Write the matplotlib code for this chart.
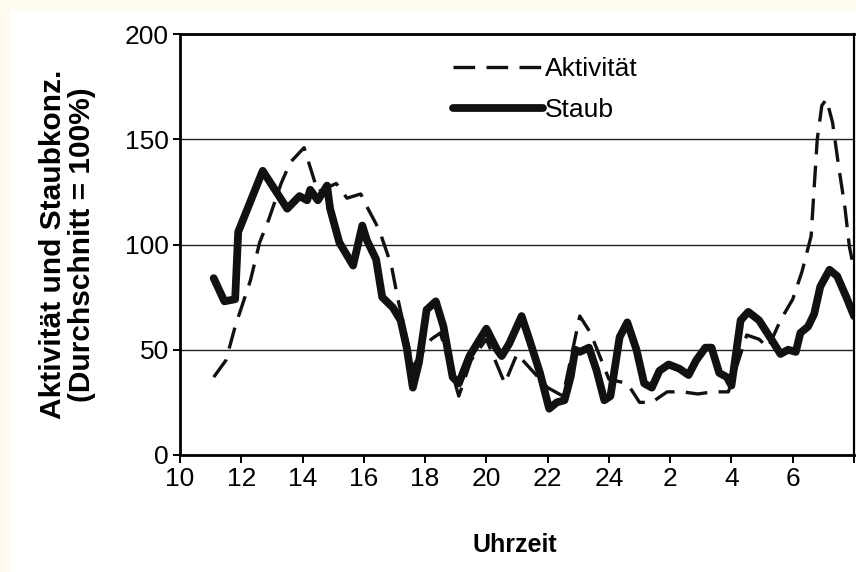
import matplotlib
matplotlib.use('Agg')
import matplotlib.pyplot as plt
from matplotlib.patches import Rectangle

# Values (hours since 10:00 of day 1, continuing past 24)
akt_time = [11.1, 11.5, 11.8, 12.3, 12.6, 12.9, 13.3, 13.6, 14.05, 14.5, 15.1, 15.45,
            15.9, 16.1, 16.5, 16.9, 17.1, 17.6, 18.2, 18.5, 19.1, 19.5, 20.0, 20.6,
            21.0, 21.5, 22.0, 22.5, 23.05, 23.4, 24.0, 24.6, 25.0, 25.4, 25.9, 26.4,
            26.9, 27.4, 27.9, 28.5, 28.9, 29.2, 29.6, 30.0, 30.3, 30.6, 30.8, 30.95,
            31.1, 31.3, 31.5, 31.7, 31.85, 32.0]
akt_vals = [37, 45, 61, 83, 101, 112, 129, 139, 146, 125, 129, 122,
            124, 118, 107, 90, 75, 42, 55, 58, 28, 45, 55, 34,
            48, 40, 32, 28, 66, 58, 36, 34, 25, 25, 30, 30,
            29, 30, 30, 57, 55, 51, 64, 74, 87, 104, 150, 166,
            169, 158, 137, 118, 99, 88]

staub_time = [11.1, 11.45, 11.8, 11.9, 12.7, 13.5, 13.9, 14.15, 14.25, 14.5, 14.8, 14.9,
              15.2, 15.65, 15.95, 16.1, 16.4, 16.6, 16.95, 17.2, 17.4, 17.6, 17.8, 18.05,
              18.35, 18.6, 18.9, 19.1, 19.45, 20.0, 20.35, 20.5, 20.75, 21.15, 21.4, 21.75,
              22.05, 22.3, 22.55, 22.75, 22.9, 23.05, 23.35, 23.6, 23.85, 24.05, 24.35, 24.6,
              24.9, 25.15, 25.4, 25.65, 25.95, 26.3, 26.6, 26.85, 27.15, 27.35, 27.6, 27.85,
              28.0, 28.3, 28.55, 28.9, 29.3, 29.6, 29.85, 30.1, 30.25, 30.5, 30.7, 30.9,
              31.2, 31.45, 31.75, 32.0]
staub_vals = [84, 73, 74, 106, 135, 117, 123, 121, 126, 121, 128, 117,
              101, 90, 109, 102, 93, 75, 70, 64, 51, 32, 44, 69,
              73, 61, 37, 34, 47, 60, 50, 47, 53, 66, 55, 39,
              22, 25, 26, 37, 50, 49, 51, 40, 26, 28, 56, 63,
              50, 34, 32, 40, 43, 41, 38, 45, 51, 51, 39, 37,
              33, 64, 68, 64, 55, 48, 50, 49, 58, 61, 67, 80,
              88, 85, 75, 66]

x_ticks = list(range(10, 33, 2))
x_labels = ['10', '12', '14', '16', '18', '20', '22', '24', '2', '4', '6', '']
y_ticks = [0, 50, 100, 150, 200]

plt.rcParams['font.family'] = ['Liberation Sans', 'DejaVu Sans']

fig = plt.figure(figsize=(8.56, 5.72), dpi=100)
fig.patch.set_facecolor('#fffbef')
fig.patches.append(Rectangle((10 / 856, 0), 1, 1 - 10 / 572, transform=fig.transFigure,
                             facecolor='white', edgecolor='none', zorder=-5))

ax = fig.add_axes([180 / 856, 1 - 455 / 572, 674 / 856, 421 / 572])
ax.set_facecolor('white')

ax.plot(akt_time, akt_vals, color='#111111', linewidth=2.4, dashes=(6.5, 3.4),
        label='Aktivität')
ax.plot(staub_time, staub_vals, color='#111111', linewidth=5.6,
        solid_joinstyle='round', solid_capstyle='round', label='Staub')

ax.set_xlim(10, 32)
ax.set_ylim(0, 200)
ax.set_xticks(x_ticks)
ax.set_xticklabels(x_labels)
ax.set_yticks(y_ticks)

for v in [50, 100, 150]:
    ax.axhline(v, color='#222222', linewidth=1.0, zorder=0)

for side in ['left', 'bottom', 'top']:
    ax.spines[side].set_linewidth(2.0)
ax.spines['right'].set_linewidth(1.6)

ax.tick_params(axis='x', direction='out', length=6, width=1.4, pad=3, labelsize=19)
ax.tick_params(axis='y', direction='out', length=5, width=1.4, pad=3, labelsize=19)

ax.set_xlabel('Uhrzeit', fontsize=18, fontweight='bold')
ax.xaxis.set_label_coords(0.497, -0.185)
ax.set_ylabel('Aktivität und Staubkonz.\n(Durchschnitt = 100%)', fontsize=21.5,
              fontweight='bold', linespacing=1.05)
ax.yaxis.set_label_coords(-0.124, 0.5)

ax.legend(loc='upper left', bbox_to_anchor=(0.405, 0.945), frameon=False, fontsize=19,
          handlelength=3.4, handletextpad=0.1, labelspacing=0.65, borderpad=0,
          borderaxespad=0)

plt.savefig('out.png', dpi=100)
